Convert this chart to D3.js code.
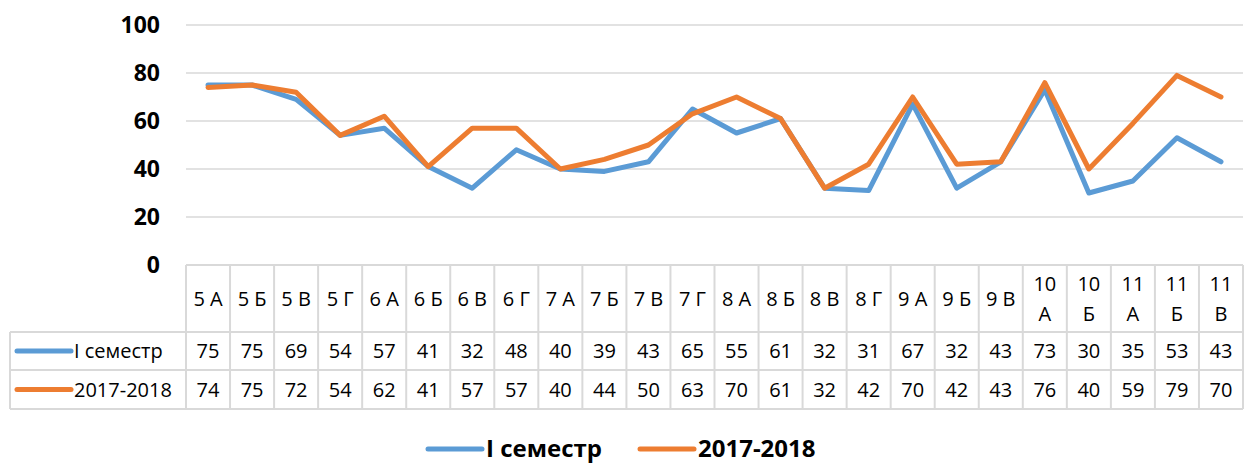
<!DOCTYPE html>
<html>
<head>
<meta charset="utf-8">
<script src="https://cdn.jsdelivr.net/npm/d3@7"></script>
<style>
  body { margin: 0; background: #fff; }
  text { font-family: 'Open Sans', sans-serif; }
</style>
</head>
<body>
<svg id="chart"></svg>
<script>
var categories = ['5 А','5 Б','5 В','5 Г','6 А','6 Б','6 В','6 Г','7 А','7 Б','7 В','7 Г','8 А','8 Б','8 В','8 Г','9 А','9 Б','9 В','10 А','10 Б','11 А','11 Б','11 В']
var semester = [75,75,69,54,57,41,32,48,40,39,43,65,55,61,32,31,67,32,43,73,30,35,53,43]
var year2017 = [74,75,72,54,62,41,57,57,40,44,50,63,70,61,32,42,70,42,43,76,40,59,79,70]
var seriesNames = ['I семестр', '2017-2018']
var seriesColors = ['#5B9BD5', '#ED7D31']
var yTicks = [0,20,40,60,80,100]

var W = 1247, H = 463
var svg = d3.select('#chart').attr('width', W).attr('height', H)

var x = d3.scaleBand().domain(categories).range([186, 1243])
var y = d3.scaleLinear().domain([0,100]).range([265, 25])

var gridColor = '#d9d9d9'

// horizontal grid
svg.selectAll('.grid').data(yTicks.filter(function(d){ return d > 0 }))
  .enter().append('line')
    .attr('x1', 186).attr('x2', 1243)
    .attr('y1', function(d){ return y(d) }).attr('y2', function(d){ return y(d) })
    .attr('stroke', gridColor).attr('stroke-width', 1.5)

// y labels
svg.selectAll('.ylab').data(yTicks).enter().append('text')
    .text(function(d){ return d })
    .attr('x', 160)
    .attr('y', function(d){ return y(d) })
    .attr('dy', '0.35em')
    .attr('text-anchor', 'end')
    .attr('font-size', '23px')
    .attr('font-weight', 'bold')
    .attr('fill', '#000')

// data table
var rowTop = [265, 332, 370, 409]
var tbl = svg.append('g')
tbl.append('line').attr('x1', 186).attr('x2', 1243).attr('y1', rowTop[0]).attr('y2', rowTop[0])
  .attr('stroke', gridColor).attr('stroke-width', 2)
rowTop.slice(1).forEach(function(ry){
  tbl.append('line').attr('x1', 10).attr('x2', 1243).attr('y1', ry).attr('y2', ry)
    .attr('stroke', gridColor).attr('stroke-width', 2)
})
categories.forEach(function(c){
  tbl.append('line').attr('x1', x(c)).attr('x2', x(c)).attr('y1', rowTop[0]).attr('y2', rowTop[3])
    .attr('stroke', gridColor).attr('stroke-width', 2)
})
tbl.append('line').attr('x1', 1243).attr('x2', 1243).attr('y1', rowTop[0]).attr('y2', rowTop[3])
  .attr('stroke', gridColor).attr('stroke-width', 2)
tbl.append('line').attr('x1', 10).attr('x2', 10).attr('y1', rowTop[1]).attr('y2', rowTop[3])
  .attr('stroke', gridColor).attr('stroke-width', 2)

// category header (two-digit grades wrap onto two lines)
categories.forEach(function(c){
  var cx = x(c) + x.bandwidth() / 2
  var parts = c.split(' ')
  if (parts[0].length > 1) {
    tbl.append('text').text(parts[0]).attr('x', cx).attr('y', 284).attr('dy', '0.35em')
      .attr('text-anchor', 'middle').attr('font-size', '20px')
    tbl.append('text').text(parts[1]).attr('x', cx).attr('y', 314).attr('dy', '0.35em')
      .attr('text-anchor', 'middle').attr('font-size', '20px')
  } else {
    tbl.append('text').text(c).attr('x', cx).attr('y', 299).attr('dy', '0.35em')
      .attr('text-anchor', 'middle').attr('font-size', '20px')
  }
})

// value rows
;[semester, year2017].forEach(function(vals, i){
  var cy = (rowTop[i+1] + rowTop[i+2]) / 2
  tbl.append('line').attr('x1', 17).attr('x2', 71).attr('y1', cy).attr('y2', cy)
    .attr('stroke', seriesColors[i]).attr('stroke-width', 5).attr('stroke-linecap', 'round')
  tbl.append('text').text(seriesNames[i]).attr('x', 74).attr('y', cy).attr('dy', '0.35em')
    .attr('font-size', '20px')
  vals.forEach(function(v, j){
    tbl.append('text').text(v)
      .attr('x', x(categories[j]) + x.bandwidth() / 2).attr('y', cy).attr('dy', '0.35em')
      .attr('text-anchor', 'middle').attr('font-size', '20px')
  })
})

// lines
var line = d3.line()
  .x(function(d, i){ return x(categories[i]) + x.bandwidth() / 2 })
  .y(function(d){ return y(d) })
;[semester, year2017].forEach(function(vals, i){
  svg.append('path').datum(vals)
    .attr('d', line)
    .attr('fill', 'none')
    .attr('stroke', seriesColors[i])
    .attr('stroke-width', 5)
    .attr('stroke-linejoin', 'round')
    .attr('stroke-linecap', 'round')
})

// legend
var legX = [428, 640]
seriesNames.forEach(function(n, i){
  svg.append('line').attr('x1', legX[i]).attr('x2', legX[i] + 54).attr('y1', 449).attr('y2', 449)
    .attr('stroke', seriesColors[i]).attr('stroke-width', 5).attr('stroke-linecap', 'round')
  svg.append('text').text(n).attr('x', legX[i] + 58).attr('y', 449).attr('dy', '0.35em')
    .attr('font-size', '24px').attr('font-weight', 'bold')
})
</script>
</body>
</html>
